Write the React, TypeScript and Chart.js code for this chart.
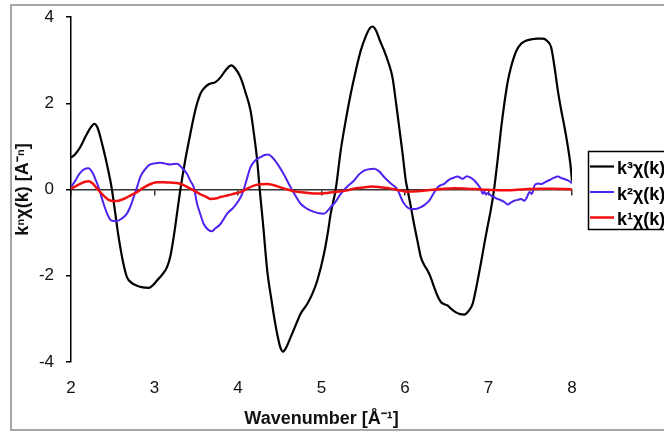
import React, { useEffect, useRef } from 'react';
import { Chart, registerables } from 'chart.js';

Chart.register(...registerables);

// ---- data ----
const seriesLabels = ['k³χ(k)', 'k²χ(k)', 'k¹χ(k)'];
const xTitle = 'Wavenumber [Å⁻¹]';
const yTitle = 'kⁿχ(k) [A⁻ⁿ]';
const xMin = 2;
const xMax = 8;
const yMin = -4;
const yMax = 4;
const xStep = 1;
const yStep = 2;

const k3K = [2.0, 2.05, 2.11, 2.18, 2.24, 2.28, 2.32, 2.38, 2.44, 2.49, 2.53, 2.57, 2.62, 2.67, 2.73, 2.79, 2.86, 2.93, 2.98, 3.03, 3.09, 3.15, 3.19, 3.23, 3.27, 3.31, 3.37, 3.43, 3.49, 3.55, 3.6, 3.66, 3.73, 3.79, 3.85, 3.92, 3.97, 4.03, 4.09, 4.15, 4.19, 4.23, 4.26, 4.3, 4.35, 4.4, 4.44, 4.48, 4.51, 4.54, 4.58, 4.63, 4.69, 4.75, 4.83, 4.89, 4.95, 5.03, 5.08, 5.11, 5.17, 5.23, 5.29, 5.35, 5.41, 5.47, 5.53, 5.58, 5.61, 5.65, 5.7, 5.75, 5.8, 5.85, 5.89, 5.93, 5.97, 6.01, 6.03, 6.07, 6.1, 6.15, 6.19, 6.23, 6.27, 6.31, 6.35, 6.39, 6.43, 6.47, 6.51, 6.56, 6.61, 6.66, 6.71, 6.76, 6.81, 6.84, 6.87, 6.91, 6.95, 6.99, 7.03, 7.07, 7.11, 7.15, 7.19, 7.23, 7.27, 7.33, 7.39, 7.45, 7.51, 7.58, 7.65, 7.7, 7.75, 7.79, 7.83, 7.87, 7.91, 7.95, 7.98, 8.0];
const k3V = [0.74, 0.82, 0.98, 1.25, 1.45, 1.52, 1.42, 1.0, 0.5, 0.0, -0.55, -1.1, -1.65, -2.03, -2.17, -2.23, -2.27, -2.28, -2.22, -2.11, -1.98, -1.8, -1.55, -1.1, -0.55, 0.0, 0.7, 1.3, 1.85, 2.22, 2.36, 2.45, 2.49, 2.6, 2.76, 2.88, 2.8, 2.6, 2.25, 1.83, 1.3, 0.67, 0.0, -0.8, -1.88, -2.55, -3.04, -3.45, -3.68, -3.76, -3.65, -3.43, -3.15, -2.88, -2.65, -2.42, -2.11, -1.49, -0.95, -0.56, 0.0, 0.9, 1.6, 2.22, 2.75, 3.22, 3.55, 3.74, 3.78, 3.7, 3.45, 3.22, 2.95, 2.6, 2.05, 1.45, 0.85, 0.2, 0.0, -0.4, -0.72, -1.2, -1.57, -1.75, -1.88, -2.05, -2.27, -2.47, -2.61, -2.66, -2.69, -2.78, -2.85, -2.89, -2.9, -2.82, -2.65, -2.4, -2.11, -1.7, -1.26, -0.85, -0.45, 0.05, 0.7, 1.4, 2.0, 2.5, 2.84, 3.2, 3.38, 3.45, 3.48, 3.5, 3.5, 3.45, 3.3, 2.85, 2.3, 1.85, 1.45, 1.0, 0.6, 0.2];

const k2K = [2.0, 2.05, 2.1, 2.16, 2.21, 2.26, 2.3, 2.33, 2.39, 2.43, 2.47, 2.51, 2.55, 2.61, 2.67, 2.71, 2.75, 2.79, 2.83, 2.88, 2.93, 2.99, 3.07, 3.13, 3.19, 3.27, 3.33, 3.39, 3.43, 3.47, 3.51, 3.55, 3.59, 3.64, 3.68, 3.73, 3.79, 3.87, 3.95, 4.0, 4.05, 4.1, 4.15, 4.21, 4.27, 4.32, 4.36, 4.41, 4.47, 4.55, 4.63, 4.69, 4.75, 4.83, 4.91, 4.97, 5.03, 5.07, 5.11, 5.17, 5.23, 5.31, 5.39, 5.45, 5.51, 5.57, 5.63, 5.69, 5.75, 5.83, 5.91, 5.95, 5.99, 6.07, 6.13, 6.19, 6.24, 6.29, 6.34, 6.39, 6.43, 6.47, 6.51, 6.55, 6.59, 6.63, 6.69, 6.74, 6.79, 6.83, 6.87, 6.91, 6.93, 6.95, 6.97, 6.99, 7.03, 7.07, 7.11, 7.15, 7.19, 7.23, 7.27, 7.31, 7.35, 7.39, 7.43, 7.46, 7.49, 7.52, 7.55, 7.59, 7.63, 7.68, 7.73, 7.78, 7.83, 7.88, 7.95, 8.0];
const k2V = [0.05, 0.2, 0.36, 0.47, 0.49, 0.38, 0.2, 0.05, -0.33, -0.55, -0.7, -0.73, -0.73, -0.67, -0.56, -0.4, -0.18, 0.05, 0.29, 0.45, 0.56, 0.6, 0.62, 0.6, 0.58, 0.6, 0.5, 0.36, 0.2, 0.05, -0.33, -0.58, -0.8, -0.93, -0.97, -0.9, -0.8, -0.56, -0.41, -0.28, -0.1, 0.2, 0.52, 0.68, 0.75, 0.8, 0.81, 0.75, 0.6, 0.35, 0.05, -0.15, -0.33, -0.45, -0.52, -0.55, -0.56, -0.5, -0.41, -0.28, -0.1, 0.07, 0.21, 0.35, 0.44, 0.47, 0.48, 0.42, 0.29, 0.14, 0.0, -0.18, -0.33, -0.45, -0.45, -0.41, -0.35, -0.26, -0.1, 0.05, 0.1, 0.13, 0.2, 0.25, 0.28, 0.3, 0.25, 0.31, 0.27, 0.21, 0.12, 0.0, -0.1, -0.05, -0.12, -0.08, -0.14, -0.18, -0.22, -0.25, -0.29, -0.35, -0.3, -0.26, -0.24, -0.22, -0.26, -0.18, -0.06, -0.1, 0.09, 0.14, 0.13, 0.17, 0.22, 0.27, 0.3, 0.26, 0.21, 0.15];

const k1K = [2.0, 2.06, 2.12, 2.17, 2.21, 2.26, 2.3, 2.35, 2.4, 2.45, 2.51, 2.57, 2.63, 2.71, 2.79, 2.85, 2.91, 2.97, 3.03, 3.11, 3.19, 3.27, 3.35, 3.41, 3.47, 3.55, 3.63, 3.67, 3.73, 3.8, 3.87, 3.95, 4.03, 4.11, 4.19, 4.27, 4.35, 4.43, 4.51, 4.59, 4.67, 4.79, 4.91, 5.01, 5.07, 5.19, 5.31, 5.39, 5.47, 5.54, 5.61, 5.71, 5.83, 5.93, 6.03, 6.15, 6.27, 6.43, 6.59, 6.75, 6.91, 7.03, 7.15, 7.31, 7.47, 7.63, 7.79, 7.91, 8.0];
const k1V = [0.02, 0.08, 0.14, 0.18, 0.19, 0.14, 0.05, -0.06, -0.16, -0.24, -0.27, -0.26, -0.22, -0.14, -0.06, 0.02, 0.09, 0.14, 0.17, 0.17, 0.16, 0.15, 0.1, 0.04, -0.02, -0.11, -0.18, -0.22, -0.21, -0.17, -0.14, -0.1, -0.06, 0.02, 0.09, 0.12, 0.13, 0.1, 0.05, 0.0, -0.04, -0.07, -0.09, -0.09, -0.08, -0.05, -0.02, 0.02, 0.04, 0.06, 0.07, 0.05, 0.02, -0.02, -0.05, -0.04, -0.02, 0.01, 0.03, 0.02, 0.0, -0.01, -0.02, -0.01, 0.01, 0.02, 0.02, 0.01, 0.0];

const seriesColors = ['#000000', '#5022F0', '#F01010'];

const FONT = '"Liberation Sans", Arial, sans-serif';

const toPoints = (ks: number[], vs: number[]) => ks.map((k, i) => ({ x: k, y: vs[i] }));

const legendBoxPlugin = {
  id: 'legendBoxPlugin',
  afterDraw(chart: any) {
    const ctx = chart.ctx;
    ctx.save();
    ctx.fillStyle = '#ffffff';
    ctx.fillRect(588.5, 151.5, 120, 78);
    ctx.strokeStyle = '#000';
    ctx.lineWidth = 1.5;
    ctx.strokeRect(588.5, 151.5, 120, 78);
    chart.data.datasets.forEach((ds: any, i: number) => {
      const base = 174 + i * 25.5;
      const ly = base - 7.5;
      ctx.strokeStyle = ds.borderColor;
      ctx.lineWidth = ds.borderWidth;
      ctx.beginPath();
      ctx.moveTo(590, ly);
      ctx.lineTo(614, ly);
      ctx.stroke();
      ctx.fillStyle = '#000';
      ctx.font = `bold 18px ${FONT}`;
      ctx.textBaseline = 'alphabetic';
      ctx.textAlign = 'left';
      ctx.fillText(ds.label, 617, base);
    });
    ctx.restore();
  },
};

export default function App() {
  const ref = useRef<HTMLCanvasElement | null>(null);

  useEffect(() => {
    if (!ref.current) return;
    const chart = new Chart(ref.current, {
      type: 'line',
      data: {
        datasets: [
          { label: seriesLabels[0], data: toPoints(k3K, k3V), borderColor: seriesColors[0], borderWidth: 2.2, order: 3 },
          { label: seriesLabels[1], data: toPoints(k2K, k2V), borderColor: seriesColors[1], borderWidth: 2, order: 2 },
          { label: seriesLabels[2], data: toPoints(k1K, k1V), borderColor: seriesColors[2], borderWidth: 2.5, order: 1 },
        ].map((d) => ({ ...d, pointRadius: 0, fill: false, cubicInterpolationMode: 'monotone' as const, backgroundColor: d.borderColor })),
      },
      options: {
        animation: false,
        responsive: false,
        events: [],
        layout: { padding: { left: 0, right: 92, top: 17, bottom: 0 } },
        plugins: { legend: { display: false }, tooltip: { enabled: false } },
        scales: {
          x: {
            type: 'linear',
            position: 'bottom',
            min: xMin,
            max: xMax,
            ticks: { stepSize: xStep, padding: 16, color: '#111', font: { family: FONT, size: 17 }, maxRotation: 0 },
            grid: { display: false, drawTicks: false },
            border: { display: false },
            title: { display: true, text: xTitle, color: '#111', font: { family: FONT, size: 18, weight: 'bold' }, padding: { top: 0, bottom: 2 } },
            afterFit: (s: any) => { s.height = 70; },
          },
          x2: {
            type: 'linear',
            axis: 'x',
            position: { y: 0 },
            min: xMin,
            max: xMax,
            ticks: { stepSize: xStep, display: false },
            grid: { drawOnChartArea: false, drawTicks: true, tickLength: 5, color: '#333', lineWidth: 1.5 },
            border: { display: true, color: '#333', width: 1.5 },
          },
          y: {
            type: 'linear',
            position: 'left',
            min: yMin,
            max: yMax,
            ticks: { stepSize: yStep, padding: 12, color: '#111', font: { family: FONT, size: 17 } },
            grid: { drawOnChartArea: false, drawTicks: true, tickLength: 5, color: '#000', lineWidth: 1.5 },
            border: { display: true, color: '#000', width: 1.5 },
            title: { display: true, text: yTitle, color: '#111', font: { family: FONT, size: 18, weight: 'bold' }, padding: { top: 12, bottom: 0 } },
            afterFit: (s: any) => { s.width = 71; s.paddingTop = 0; s.paddingBottom = 0; },
          },
        },
      } as any,
      plugins: [legendBoxPlugin],
    });
    return () => chart.destroy();
  }, []);

  return (
    <div style={{ position: 'fixed', left: 0, top: 0, width: 664, height: 432, overflow: 'hidden', background: '#fff' }}>
      <div style={{ position: 'absolute', left: 10, top: 4, width: 720, height: 427, border: '2px solid #a6a6a6', boxSizing: 'border-box' }} />
      <canvas ref={ref} width={664} height={432} style={{ position: 'absolute', left: 0, top: 0, width: 664, height: 432 }} />
    </div>
  );
}
